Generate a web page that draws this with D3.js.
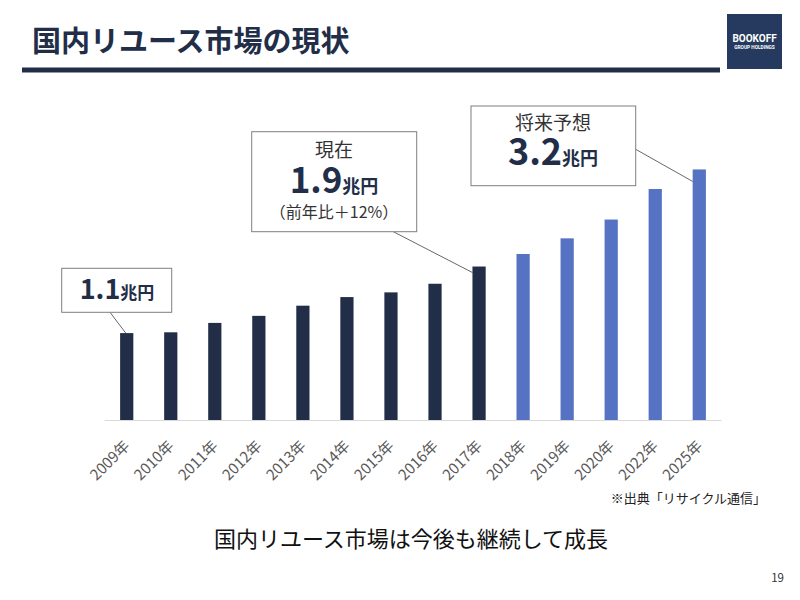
<!DOCTYPE html>
<html><head><meta charset="utf-8">
<script src="https://cdn.jsdelivr.net/npm/d3@7"></script>
<style>body{margin:0;background:#fff}svg{display:block}</style>
</head><body>
<svg id="c" width="800" height="600"></svg>
<script>
const years = ["2009年","2010年","2011年","2012年","2013年","2014年","2015年","2016年","2017年","2018年","2019年","2020年","2022年","2025年"];
const values = [1.11,1.12,1.24,1.33,1.46,1.57,1.63,1.74,1.96,2.12,2.32,2.56,2.95,3.20];
const isForecast = [false,false,false,false,false,false,false,false,false,true,true,true,true,true];
const title = "国内リユース市場の現状";
const subtitle = "国内リユース市場は今後も継続して成長";
const source = "※出典「リサイクル通信」";
const pageNo = "19";

const navy = "#222e48", blue = "#5572c3";
const font = "'Noto Sans CJK JP','Noto Sans',sans-serif";
const svg = d3.select("#c").style("font-family", font);

// header
svg.append("text").attr("x",32).attr("y",52).attr("font-size",29).attr("font-weight",700)
  .attr("fill",navy).text(title);
svg.append("rect").attr("x",22).attr("y",67.5).attr("width",698).attr("height",5).attr("fill",navy);
svg.append("rect").attr("x",727).attr("y",14).attr("width",55).attr("height",55).attr("fill","#253a5e");
svg.append("text").attr("x",754.5).attr("y",42).attr("text-anchor","middle").attr("font-size",10)
  .attr("font-weight",700).attr("fill","#fff").attr("font-family","Roboto, sans-serif").text("BOOKOFF");
svg.append("text").attr("x",754.5).attr("y",48.5).attr("text-anchor","middle").attr("font-size",4.8)
  .attr("font-weight",700).attr("fill","#fff").attr("font-family","Roboto, sans-serif").text("GROUP HOLDINGS");

// scales
const x = d3.scaleBand().domain(years).range([104.7,721.3]).paddingInner(0.7).paddingOuter(0.35);
const y = d3.scaleLinear().domain([0,4]).range([420,420-4*78.3]);

svg.append("line").attr("x1",104.7).attr("x2",721.3).attr("y1",420.5).attr("y2",420.5)
  .attr("stroke","#d9d9d9").attr("stroke-width",1);

svg.selectAll("rect.bar").data(years).join("rect").attr("class","bar")
  .attr("x",d=>x(d)).attr("width",x.bandwidth())
  .attr("y",(d,i)=>y(values[i])).attr("height",(d,i)=>y(0)-y(values[i]))
  .attr("fill",(d,i)=>isForecast[i]?blue:navy);

svg.selectAll("text.xl").data(years).join("text").attr("class","xl")
  .attr("transform",d=>`translate(${x(d)+x.bandwidth()/2+4},447) rotate(-45)`)
  .attr("text-anchor","end").attr("font-size",15).attr("fill","#595959").text(d=>d);

// callouts
function box(x0,y0,w,h){
  svg.append("rect").attr("x",x0).attr("y",y0).attr("width",w).attr("height",h)
    .attr("fill","#fff").attr("stroke","#7f7f7f").attr("stroke-width",1);
}
function leader(x1,y1,x2,y2){
  svg.append("line").attr("x1",x1).attr("y1",y1).attr("x2",x2).attr("y2",y2)
    .attr("stroke","#404040").attr("stroke-width",0.8);
}
function bigValue(cx,by,num,size,usize){
  const t = svg.append("text").attr("x",cx).attr("y",by).attr("text-anchor","middle").attr("fill",navy).attr("font-weight",700);
  t.append("tspan").attr("font-size",size).text(num);
  t.append("tspan").attr("font-size",usize).text("兆円");
}
const b0 = years[0], b8 = years[8], b13 = years[13];
// 2009
leader(110,312.3, x(b0)+x.bandwidth()/2-1, y(values[0]));
box(61.7,268.3,110,44);
bigValue(117,299,"1.1",27,17);
// 2017
leader(393.3,231.7, x(b8), y(values[8])+6);
box(251.7,131.7,165,100);
svg.append("text").attr("x",334).attr("y",157).attr("text-anchor","middle").attr("font-size",19).attr("fill","#333").text("現在");
bigValue(334,193,"1.9",35,18);
svg.append("text").attr("x",334).attr("y",218).attr("text-anchor","middle").attr("font-size",16).attr("fill","#333").text("（前年比＋12%）");
// 2025
leader(635.7,149.3, x(b13), y(values[13])+12);
box(471,106,164.7,79.7);
svg.append("text").attr("x",553).attr("y",130).attr("text-anchor","middle").attr("font-size",19).attr("fill","#333").text("将来予想");
bigValue(553,165,"3.2",36,18);

// footer texts
svg.append("text").attr("x",766).attr("y",503).attr("text-anchor","end").attr("font-size",13).attr("fill","#222").text(source);
svg.append("text").attr("x",411).attr("y",547).attr("text-anchor","middle").attr("font-size",22).attr("fill","#111").text(subtitle);
svg.append("text").attr("x",784).attr("y",582).attr("text-anchor","end").attr("font-size",11.5).attr("fill","#333").text(pageNo);
</script>
</body></html>
